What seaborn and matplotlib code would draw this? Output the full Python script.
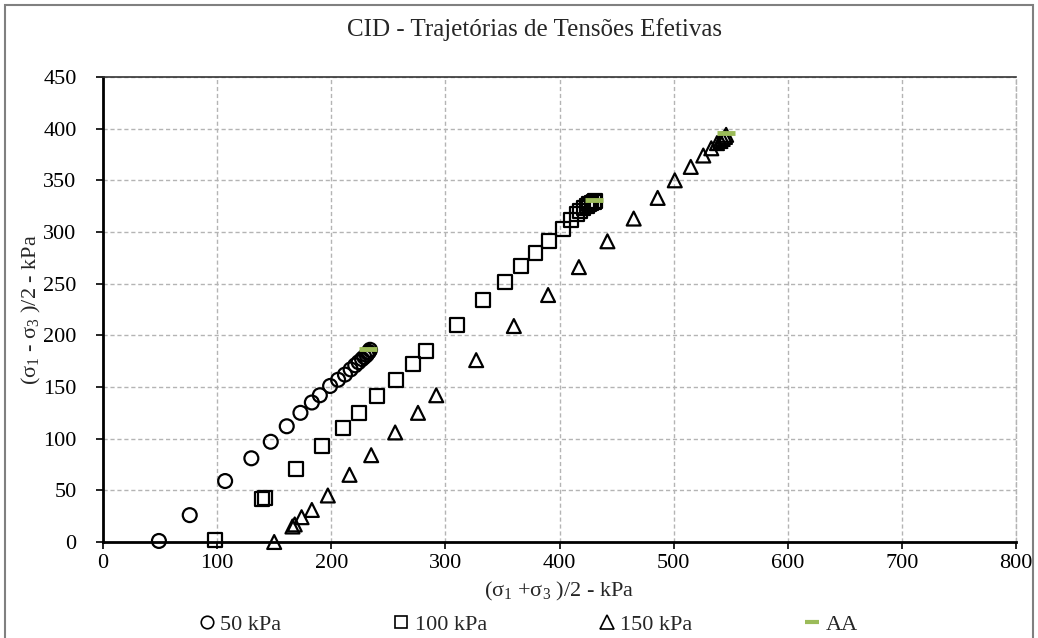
import numpy as np
import pandas as pd
import matplotlib
matplotlib.use("Agg")
import matplotlib.pyplot as plt
import seaborn as sns
from matplotlib.lines import Line2D
from matplotlib.patches import Rectangle

# ---- data ----
p50 = [49, 76, 107, 130, 147, 161, 173, 183, 190, 199, 206, 212, 217, 221, 224, 227, 229, 231, 232, 233, 234]
q50 = [1, 26, 59, 81, 97, 112, 125, 135, 142, 151, 157, 162, 167, 171, 174, 177, 179, 181, 183, 184, 186]

p100 = [98, 139, 142, 169, 192, 210, 224, 240, 257, 272, 283, 310, 333, 352, 366, 379, 391, 403, 410, 415,
        418, 421, 424, 426, 428, 430, 431]
q100 = [2, 42, 43, 71, 93, 110, 125, 141, 157, 172, 185, 210, 234, 252, 267, 280, 291, 303, 312, 317,
        320, 323, 325, 327, 328, 329, 330]

p150 = [150, 166, 168, 174, 183, 197, 216, 235, 256, 276, 292, 327, 360, 390, 417, 442, 465, 486, 501, 515,
        526, 533, 538, 541, 543, 545, 546]
q150 = [0, 15, 17, 24, 31, 45, 65, 84, 106, 125, 142, 176, 209, 239, 266, 291, 313, 333, 350, 363,
        374, 381, 386, 388, 390, 392, 394]

pAA = [232, 430, 546]
qAA = [187, 331, 396]

labels = ["50 kPa", "100 kPa", "150 kPa", "AA"]
x_ticks = [0, 100, 200, 300, 400, 500, 600, 700, 800]
y_ticks = [0, 50, 100, 150, 200, 250, 300, 350, 400, 450]

df = pd.concat([
    pd.DataFrame({"p": p50, "q": q50, "serie": labels[0]}),
    pd.DataFrame({"p": p100, "q": q100, "serie": labels[1]}),
    pd.DataFrame({"p": p150, "q": q150, "serie": labels[2]}),
    pd.DataFrame({"p": pAA, "q": qAA, "serie": labels[3]}),
], ignore_index=True)

# ---- style ----
sns.set_theme(style="white")
plt.rcParams["font.family"] = ["Liberation Serif", "DejaVu Serif"]
plt.rcParams["mathtext.fontset"] = "stix"
plt.rcParams["mathtext.default"] = "regular"

fig = plt.figure(figsize=(10.38, 6.38), dpi=100)
ax = fig.add_axes([103/1038, 1 - 542/638, (1016-103)/1038, (542-77)/638])

markers = {labels[0]: "o", labels[1]: "s", labels[2]: "^"}
for lab in labels[:3]:
    sub = df[df["serie"] == lab]
    sns.scatterplot(data=sub, x="p", y="q", marker=markers[lab], s=100,
                    facecolors="none", edgecolor="black", linewidth=1.6,
                    ax=ax, legend=False, zorder=3, clip_on=False)
subAA = df[df["serie"] == labels[3]]
sns.scatterplot(data=subAA, x="p", y="q", marker="_", s=160, color="#9bbb59",
                linewidth=3.5, ax=ax, legend=False, zorder=4)

ax.set_xlim(0, 800)
ax.set_ylim(0, 450)
ax.set_xticks(x_ticks)
ax.set_yticks(y_ticks)
ax.tick_params(axis="both", labelsize=16, direction="out", length=5, width=1.2,
               color="black", labelcolor="black", bottom=True, left=True, pad=4)
ax.tick_params(axis="y", pad=14)
ax.grid(True, linestyle=(0, (3, 2)), color="#b4b4b4", linewidth=1.0)
ax.set_axisbelow(True)

for side in ["left", "bottom"]:
    ax.spines[side].set_color("black")
    ax.spines[side].set_linewidth(2.0)
ax.spines["top"].set_color("#333333")
ax.spines["top"].set_linewidth(1.2)
ax.spines["right"].set_color("#b4b4b4")
ax.spines["right"].set_linewidth(1.0)
ax.spines["right"].set_linestyle((0, (3, 2)))

ax.set_xlabel(r"($\sigma_1$ +$\sigma_3$ )/2 - kPa", fontsize=16, labelpad=5)
ax.set_ylabel(r"($\sigma_1$ - $\sigma_3$ )/2 - kPa", fontsize=16, labelpad=0)

fig.text(0.515, 1 - 30/638, "CID - Trajetórias de Tensões Efetivas", ha="center", va="center",
         fontsize=18)

# legend at bottom
handles = [
    Line2D([], [], marker="o", linestyle="none", markerfacecolor="none", markeredgecolor="black",
           markersize=9, markeredgewidth=1.2),
    Line2D([], [], marker="s", linestyle="none", markerfacecolor="none", markeredgecolor="black",
           markersize=9, markeredgewidth=1.2),
    Line2D([], [], marker="^", linestyle="none", markerfacecolor="none", markeredgecolor="black",
           markersize=10, markeredgewidth=1.2),
    Line2D([], [], marker="_", linestyle="none", color="#9bbb59", markersize=10, markeredgewidth=3),
]
fig.legend(handles, labels, loc="center left", ncol=4, mode="expand",
           bbox_to_anchor=(198/1038, 1 - 625/638, (858-198)/1038, 0.001),
           frameon=False, fontsize=16, handlelength=0.8, handletextpad=0.2,
           borderaxespad=0, borderpad=0)

# outer chart border
fig.patches.append(Rectangle((5/1038, -0.02), 1 - 10/1038, 1 - 5/638 + 0.02, transform=fig.transFigure,
                             fill=False, edgecolor="#808080", linewidth=1.5))

fig.savefig("out.png", dpi=100)
